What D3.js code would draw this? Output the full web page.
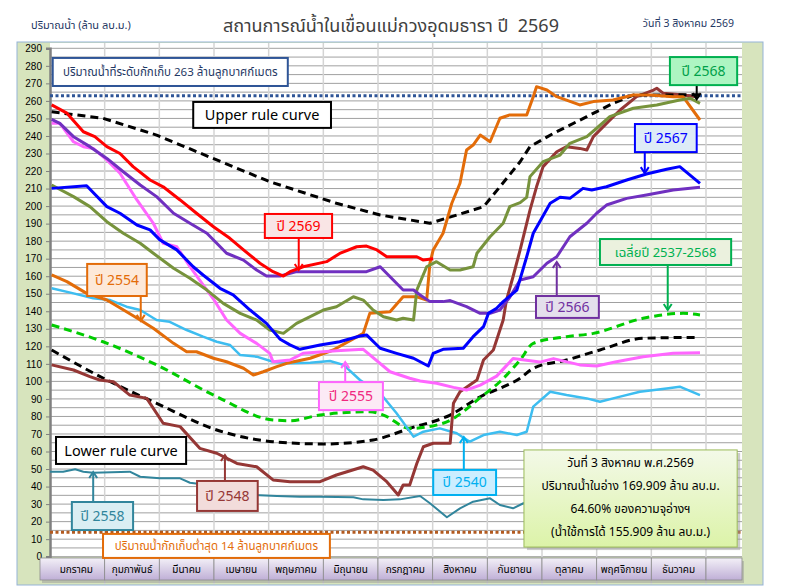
<!DOCTYPE html>
<html><head><meta charset="utf-8">
<script src="https://cdn.jsdelivr.net/npm/d3@7"></script>
<style>
body{margin:0;background:#fff;}
svg{display:block;font-family:Tahoma,"Leelawadee UI","Noto Sans Thai","Liberation Sans",Arial,sans-serif;}
</style></head><body>
<svg id="chart" width="785" height="586"></svg>
<script>
// ---------------- DATA ----------------
const monthLabels = ["มกราคม","กุมภาพันธ์","มีนาคม","เมษายน","พฤษภาคม","มิถุนายน","กรกฎาคม","สิงหาคม","กันยายน","ตุลาคม","พฤศจิกายน","ธันวาคม",""];
const yTickValues = [0,10,20,30,40,50,60,70,80,90,100,110,120,130,140,150,160,170,180,190,200,210,220,230,240,250,260,270,280,290];
const storageLevel = 263;
const minLevel = 14;

// [month (0 = 1 Jan, 12 = end of Dec), million m3]
const y2569 = [[0.03,257.7],[0.31,253],[0.61,242.4],[0.82,239.6],[1.04,233.9],[1.28,230],[1.52,222.5],[1.83,214.9],[2.07,211],[2.38,203.5],[2.68,195.9],[2.99,188.2],[3.29,181.6],[3.54,175],[3.84,167.4],[4.08,162.6],[4.27,160.1],[4.39,162.6],[4.63,165.4],[5.06,168.3],[5.30,173],[5.61,176.8],[5.79,177.2],[5.98,175],[6.16,171.1],[6.46,171.1],[6.71,171.1],[6.83,169.2],[7.01,169.9]];
const y2568 = [[0.03,212],[0.43,205.4],[0.73,199.7],[1.04,191.1],[1.34,184.5],[1.65,178.8],[1.89,173.1],[2.26,164.5],[2.56,158.8],[2.87,152.1],[3.17,144.5],[3.48,138.8],[3.78,135],[4.02,129.3],[4.27,127.4],[4.51,133.1],[4.76,136.9],[5.00,140.7],[5.24,142.6],[5.55,148.3],[5.73,146.4],[5.91,140.7],[6.10,136.9],[6.34,135],[6.46,136],[6.65,135],[6.71,152.1],[6.89,165.4],[7.07,168.3],[7.32,163.5],[7.50,163.5],[7.74,165.4],[7.81,173.1],[8.05,182.5],[8.29,190.2],[8.41,199.7],[8.60,202],[8.72,205],[8.78,216.8],[9.02,225.3],[9.33,229.1],[9.51,235.8],[9.82,239.6],[10.00,244.4],[10.24,251],[10.67,255.8],[11.10,257.7],[11.52,260.5],[11.71,261.5],[11.89,258.6]];
const y2567 = [[0.03,210.1],[0.67,211.6],[1.04,199.7],[1.28,195.9],[1.59,189.2],[1.83,186.4],[2.01,180.7],[2.32,175],[2.62,165.4],[2.80,160.7],[3.11,153.1],[3.35,149.3],[3.66,140.7],[3.96,133.1],[4.21,124],[4.39,120.8],[4.57,118.3],[4.94,120.8],[5.30,122.6],[5.67,125.9],[5.79,126.5],[6.04,118.9],[6.34,116],[6.65,113.2],[6.92,108.8],[7.01,116],[7.19,118.3],[7.56,118.9],[7.74,125.5],[7.93,131.2],[8.02,138.8],[8.17,141.7],[8.29,145.5],[8.54,152.1],[8.72,171.1],[8.84,184.5],[9.15,201.6],[9.33,205],[9.51,204.4],[9.75,210.1],[9.91,209.2],[10.18,211],[10.55,214.9],[10.91,218.3],[11.28,221],[11.52,222.5],[11.89,213]];
const y2566 = [[0.03,249.5],[0.18,247.2],[0.43,239.6],[0.73,233.9],[1.04,227.2],[1.34,219.6],[1.65,212],[1.95,205.4],[2.26,195.9],[2.56,190.2],[2.87,184.5],[3.23,173.1],[3.54,169.2],[3.78,163.5],[3.96,160.1],[4.21,160.1],[4.51,162.6],[5.12,162.6],[5.79,162.6],[6.04,165.4],[6.28,157.8],[6.46,152.1],[6.65,152.1],[6.77,149.3],[6.95,145.5],[7.19,145.5],[7.32,146.1],[7.62,142.6],[7.87,138.8],[8.05,138.8],[8.23,140.7],[8.41,148],[8.60,157.8],[8.84,159.7],[9.09,167.4],[9.27,171.1],[9.51,182.5],[9.82,190.2],[10.00,195.9],[10.18,200.6],[10.55,204.4],[10.91,206.3],[11.40,209.2],[11.89,210.7]];
const y2555 = [[0.03,247.2],[0.18,247.2],[0.43,236.7],[0.61,233.9],[0.79,232.9],[1.04,226.3],[1.28,218.7],[1.59,203.5],[1.89,190.2],[2.07,178.8],[2.32,176.8],[2.56,165.4],[2.87,152.1],[2.99,147],[3.23,135],[3.48,127.4],[3.78,121.7],[4.02,116],[4.08,111.2],[4.39,112.2],[4.63,116],[5.24,117.5],[5.73,118.3],[6.22,105.5],[6.58,101.8],[6.77,100.2],[7.07,98.9],[7.38,96.6],[7.62,95.1],[7.87,97.9],[8.17,103],[8.35,109],[8.47,113],[8.96,111],[9.21,113],[9.69,109.4],[10.00,108.8],[10.36,111.2],[10.85,114.1],[11.40,116],[11.89,116.4]];
const y2554 = [[0.03,160.7],[0.31,156.9],[0.67,150.2],[1.04,146.4],[1.40,139.7],[1.65,135],[1.89,130.3],[2.26,121.7],[2.50,116.9],[2.68,116.9],[2.99,113.2],[3.23,111.2],[3.54,107.5],[3.72,103.6],[3.90,105.5],[4.15,108.4],[4.33,110.3],[4.76,113.2],[5.18,117.9],[5.73,127.4],[5.79,133.1],[5.85,138.8],[6.22,139.7],[6.46,148.3],[6.71,148.3],[6.89,146.4],[6.95,167.4],[7.01,175],[7.19,184.5],[7.35,201.6],[7.50,213],[7.62,232],[7.74,234.8],[7.87,240.5],[8.05,236.7],[8.23,250.1],[8.41,252],[8.72,252],[8.84,262.4],[8.90,268.1],[9.09,266.2],[9.27,262.4],[9.69,257.7],[9.94,259.6],[10.30,260.5],[10.67,263.4],[10.97,263.4],[11.40,262.4],[11.58,262.4],[11.89,249.1]];
const y2540 = [[0.03,153.1],[0.43,150.2],[0.79,147.4],[1.10,146.4],[1.40,142.6],[1.65,140.7],[1.95,135],[2.19,134],[2.50,129.3],[2.80,125.5],[3.05,122.6],[3.29,120.8],[3.48,115],[3.78,114.1],[4.08,111.2],[4.39,110.3],[4.76,110.7],[5.12,111.6],[5.37,109.4],[5.67,100.8],[6.04,93.2],[6.34,81.8],[6.65,68.5],[6.83,71.3],[7.13,73.2],[7.44,70.4],[7.68,65.6],[7.93,69.4],[8.23,71.3],[8.54,69.4],[8.72,71.3],[8.84,85.6],[9.15,94.1],[9.45,92.2],[9.82,90.3],[10.06,88.4],[10.43,91.3],[10.79,94.1],[11.28,96],[11.52,97],[11.89,92.2]];
const y2548 = [[0.03,109.4],[0.43,106.5],[0.73,102.7],[0.91,100.8],[1.16,99.8],[1.46,92.2],[1.77,90.3],[2.07,76.1],[2.38,74.2],[2.74,61.8],[3.05,59],[3.42,53.2],[3.78,51.3],[4.08,43.8],[4.39,42.8],[4.94,42.8],[5.24,46.6],[5.73,51.3],[5.91,49.4],[6.16,42.8],[6.37,35.2],[6.46,40.9],[6.58,40.9],[6.71,53.2],[6.83,62.7],[7.01,64.7],[7.32,64.7],[7.38,87.5],[7.50,94.1],[7.81,100.8],[7.93,112.2],[8.11,117.9],[8.29,135],[8.35,146.4],[8.47,159.7],[8.60,175],[8.78,197.7],[8.90,211],[9.02,222.5],[9.27,231],[9.45,233.9],[9.69,232.9],[9.82,232],[9.94,239.6],[10.18,247.2],[10.43,254.8],[10.73,262.4],[11.04,266.2],[11.10,267.2],[11.22,264.3],[11.58,263.4],[11.83,262.4]];
const y2558 = [[0.0,48.5],[0.24,48.5],[0.46,49.9],[0.61,48.5],[0.79,47.9],[1.46,48.5],[1.65,45.6],[2.01,44.7],[2.38,44.7],[2.56,42.2],[2.74,41.5],[2.99,39.9],[3.35,37.1],[3.72,35.2],[4.15,34.6],[4.57,34.2],[4.94,34.2],[5.55,33.9],[5.73,32.7],[6.10,32.3],[6.40,32.7],[6.77,34.6],[6.95,30.5],[7.26,22.5],[7.50,27.6],[7.74,31.4],[8.05,33.3],[8.23,29.5],[8.47,27.6],[8.66,30.5],[8.75,31]];
const avg2537_2568 = [[0.03,132.2],[0.97,122.6],[1.95,109.4],[3.05,91.3],[4.08,78],[4.39,77.6],[4.94,80.8],[5.85,82.7],[6.10,80.8],[6.58,73.2],[7.19,76.1],[7.93,92.2],[8.23,99.8],[8.41,105.5],[8.60,112.2],[8.84,121.7],[9.45,125.5],[9.94,127.4],[10.85,136],[11.58,138.8],[11.89,137.9]];
const upperRule = [[0.03,253.8],[0.97,250.1],[1.95,240.5],[3.05,226.3],[4.02,213.9],[5.24,201.6],[6.04,194.9],[6.95,190.2],[7.93,199.6],[8.23,211],[8.60,225.3],[8.78,233.9],[9.21,241.5],[9.82,251],[10.30,258.6],[10.67,263.3],[11.89,263.5]];
const lowerRule = [[0.03,117.9],[1.04,100.8],[1.95,87.5],[3.05,72.3],[4.08,65.6],[5.00,64.3],[5.91,66.6],[6.58,73.2],[7.32,80.8],[7.93,92.2],[8.23,96],[8.60,101.8],[8.84,107.5],[9.45,112.2],[10.06,117.9],[10.85,124.6],[11.83,125.1]];

const infoLines = ["วันที่ 3 สิงหาคม พ.ศ.2569","ปริมาณน้ำในอ่าง 169.909 ล้าน ลบ.ม.","64.60% ของความจุอ่างฯ","(น้ำใช้การได้ 155.909 ล้าน ลบ.ม.)"];

// ---------------- LAYOUT ----------------
const plotL = 50, plotR = 742, plotT = 43, plotB = 556.7;
const svg = d3.select("#chart");
const x = d3.scaleLinear().domain([0,12]).range([plotL,706]);
const y = d3.scaleLinear().domain([0,290]).range([plotB,48.3]);
const defs = svg.append("defs");

// chart area
svg.append("rect").attr("x",17).attr("y",42).attr("width",746).attr("height",543)
  .attr("fill","#D7E4BD").attr("stroke","#95B3D7").attr("stroke-width",1);
svg.append("rect").attr("x",plotL).attr("y",plotT).attr("width",plotR-plotL).attr("height",plotB-plotT).attr("fill","#fff");

// titles
svg.append("text").attr("x",391).attr("y",32).attr("text-anchor","middle").style("white-space","pre")
  .attr("font-size",18).attr("fill","#404040").text("สถานการณ์น้ำในเขื่อนแม่กวงอุดมธารา ปี  2569");
svg.append("text").attr("x",31).attr("y",29).attr("font-size",11).attr("fill","#1F3864").text("ปริมาณน้ำ (ล้าน ลบ.ม.)");
svg.append("text").attr("x",734).attr("y",27).attr("text-anchor","end").attr("font-size",10.5).attr("fill","#1F3864").text("วันที่ 3 สิงหาคม 2569");

// grid
const g = svg.append("g");
g.selectAll("line.h").data(d3.range(0,291,5)).join("line")
  .attr("x1",plotL).attr("x2",plotR).attr("y1",d=>y(d)).attr("y2",d=>y(d))
  .attr("stroke","#A0A0A0").attr("stroke-width",1);
g.selectAll("line.v").data(d3.range(1,13)).join("line")
  .attr("x1",d=>x(d)).attr("x2",d=>x(d)).attr("y1",plotT).attr("y2",584)
  .attr("stroke","#D4D4D4").attr("stroke-width",1.5);

// y axis
const yAxis = svg.append("g").attr("transform",`translate(${plotL},0)`)
  .call(d3.axisLeft(y).tickValues(yTickValues).tickSize(4).tickPadding(4));
yAxis.select(".domain").attr("stroke","#808080").attr("stroke-width",2.5);
yAxis.selectAll(".tick line").attr("stroke","#808080");
yAxis.selectAll(".tick text").attr("font-size",10).attr("fill","#000").attr("font-family","Tahoma,'Liberation Sans',Arial,sans-serif");

// x category boxes
const grad = defs.append("linearGradient").attr("id","mg").attr("x1",0).attr("y1",0).attr("x2",0).attr("y2",1);
grad.append("stop").attr("offset","0%").attr("stop-color","#F3F0F7");
grad.append("stop").attr("offset","100%").attr("stop-color","#BFAFD6");
const xb = svg.append("g");
const boxEdges = monthLabels.map((m,i)=>[i===0?40:x(i), i<12?x(i+1):plotR]);
xb.append("rect").attr("x",42).attr("y",561).attr("width",plotR-40).attr("height",22).attr("fill","#9A9A9A").attr("opacity",0.5);
xb.selectAll("rect.b").data(monthLabels).join("rect")
  .attr("x",(d,i)=>boxEdges[i][0]).attr("y",558).attr("width",(d,i)=>boxEdges[i][1]-boxEdges[i][0]).attr("height",22)
  .attr("fill","url(#mg)").attr("stroke","#8C8C8C").attr("stroke-width",0.8);
xb.selectAll("text").data(monthLabels).join("text")
  .attr("x",(d,i)=>(boxEdges[i][0]+boxEdges[i][1])/2 + (i===0?4:0)).attr("y",573).attr("text-anchor","middle")
  .attr("font-size",10).attr("fill","#000").text(d=>d);

// reference lines
svg.append("line").attr("x1",plotL).attr("x2",plotR).attr("y1",y(storageLevel)).attr("y2",y(storageLevel))
  .attr("stroke","#2F5597").attr("stroke-width",3).attr("stroke-dasharray","3,2.5");
svg.append("line").attr("x1",plotL).attr("x2",plotR).attr("y1",y(minLevel)).attr("y2",y(minLevel))
  .attr("stroke","#B35A1F").attr("stroke-width",3).attr("stroke-dasharray","3,2.5");

// series
const line = d3.line().x(d=>x(d[0])).y(d=>y(d[1]));
const smooth = d3.line().x(d=>x(d[0])).y(d=>y(d[1])).curve(d3.curveMonotoneX);
const series = [
  {d:y2558,c:"#31859C",w:2,l:line},
  {d:lowerRule,c:"#000",w:3,dash:"8,5",l:smooth},
  {d:avg2537_2568,c:"#00CC00",w:3,dash:"8,5",l:smooth},
  {d:y2540,c:"#3DBDF0",w:2.5,l:line},
  {d:y2548,c:"#953735",w:3,l:line},
  {d:upperRule,c:"#000",w:3,dash:"8,5",l:line},
  {d:y2554,c:"#E36C09",w:3,l:line},
  {d:y2555,c:"#FF66FF",w:3,l:line},
  {d:y2568,c:"#77933C",w:3,l:line},
  {d:y2566,c:"#7030C0",w:3,l:line},
  {d:y2567,c:"#0000FF",w:3,l:line},
  {d:y2569,c:"#FF0000",w:3,l:line}
];
svg.append("g").selectAll("path").data(series).join("path")
  .attr("d",s=>s.l(s.d)).attr("fill","none").attr("stroke",s=>s.c).attr("stroke-width",s=>s.w)
  .attr("stroke-dasharray",s=>s.dash||null).attr("stroke-linejoin","round");

// annotations: box [m0,m1,vTop,vBottom], arrow [m, vFrom, vTo]
const notes = [
  {t:"ปริมาณน้ำที่ระดับกักเก็บ 263 ล้านลูกบาศก์เมตร",b:[0.05,4.35,284.5,268.5],fill:"#fff",stroke:"#2F5597",tc:"#1F3864",fs:11.5},
  {t:"Upper rule curve",b:[2.62,5.14,259.4,244.6],fill:"#fff",stroke:"#000",tc:"#000",fs:14.5},
  {t:"Lower rule curve",b:[0.11,2.49,68.3,52.9],fill:"#fff",stroke:"#000",tc:"#000",fs:14.5},
  {t:"ปริมาณน้ำกักเก็บต่ำสุด 14 ล้านลูกบาศก์เมตร",b:[0.97,5.12,13,-0.7],fill:"#fff",stroke:"#E36C09",tc:"#E36C09",fs:11.5},
  {t:"ปี 2568",b:[11.34,12.57,285,269],fill:"#ADF5C2",stroke:"#00B050",tc:"#00A04A",fs:14,a:[11.83,269,261],ac:"#000"},
  {t:"ปี 2567",b:[10.70,11.83,246.8,230.8],fill:"#DDEBF7",stroke:"#0000FF",tc:"#0000FF",fs:14,a:[10.88,230.8,218.8]},
  {t:"ปี 2569",b:[3.93,5.16,195.5,181.8],fill:"#F9E5E5",stroke:"#FF0000",tc:"#FF0000",fs:14,a:[4.55,181.8,163.5]},
  {t:"ปี 2554",b:[0.68,1.77,167,148.7],fill:"#FDE9D9",stroke:"#E36C09",tc:"#E36C09",fs:14,a:[1.66,148.7,134.5]},
  {t:"เฉลี่ยปี 2537-2568",b:[10.06,12.46,181.2,166.4],fill:"#EBF1DE",stroke:"#00B050",tc:"#00B050",fs:13,a:[11.30,166.4,140.7]},
  {t:"ปี 2566",b:[8.89,10.04,148.7,136.2],fill:"#E4DFEC",stroke:"#7030A0",tc:"#7030A0",fs:14,a:[9.27,148.7,168.1]},
  {t:"ปี 2555",b:[4.92,6.09,99.6,83.6],fill:"#FCEAF5",stroke:"#FF66FF",tc:"#F0287F",fs:14,a:[5.40,99.6,111]},
  {t:"ปี 2540",b:[7.01,8.16,49.5,35.2],fill:"#CCEEFF",stroke:"#00B0F0",tc:"#00B0F0",fs:14,a:[7.57,49.5,68.3]},
  {t:"ปี 2548",b:[2.69,3.80,43.2,26.1],fill:"#F2DCDB",stroke:"#953735",tc:"#953735",fs:14,a:[3.20,43.2,58]},
  {t:"ปี 2558",b:[0.40,1.52,31.2,15.2],fill:"#DAEEF3",stroke:"#31859C",tc:"#31859C",fs:14,a:[0.79,31.2,48.3]}
];
const ng = svg.append("g");
notes.forEach(n=>{
  const x0=x(n.b[0]), x1=x(n.b[1]), y0=y(n.b[2]), y1=y(n.b[3]);
  if(n.a){
    const ax=x(n.a[0]), ya=y(n.a[1]), yb=y(n.a[2]);
    const col=n.ac||n.stroke, dir = yb>ya?1:-1;
    ng.append("line").attr("x1",ax).attr("x2",ax).attr("y1",ya).attr("y2",yb).attr("stroke",col).attr("stroke-width",2);
    ng.append("path").attr("d",`M${ax-4},${yb-dir*6}L${ax},${yb}L${ax+4},${yb-dir*6}`)
      .attr("fill","none").attr("stroke",col).attr("stroke-width",2);
  }
  ng.append("rect").attr("x",x0).attr("y",y0).attr("width",x1-x0).attr("height",y1-y0)
    .attr("fill",n.fill).attr("stroke",n.stroke).attr("stroke-width",2);
  ng.append("text").attr("x",(x0+x1)/2).attr("y",(y0+y1)/2).attr("dy","0.36em").attr("text-anchor","middle")
    .attr("font-size",n.fs).attr("fill",n.tc).text(n.t);
});

// info box
const ig = defs.append("linearGradient").attr("id","ig").attr("x1",0).attr("y1",0).attr("x2",0).attr("y2",1);
ig.append("stop").attr("offset","0%").attr("stop-color","#F3F9E8");
ig.append("stop").attr("offset","100%").attr("stop-color","#DCF3A8");
const bx0=x(8.67), bx1=x(12.57), by0=y(60.9), by1=y(5.5);
svg.append("rect").attr("x",bx0+3).attr("y",by0+3).attr("width",bx1-bx0).attr("height",by1-by0).attr("fill","#999").attr("opacity",0.5);
svg.append("rect").attr("x",bx0).attr("y",by0).attr("width",bx1-bx0).attr("height",by1-by0)
  .attr("fill","url(#ig)").attr("stroke","#9BBB59").attr("stroke-width",1);
svg.append("g").selectAll("text").data(infoLines).join("text")
  .attr("x",(bx0+bx1)/2).attr("y",(d,i)=>by0+17+i*23).attr("text-anchor","middle")
  .attr("font-size",12).attr("fill","#000").text(d=>d);
</script>
</body></html>
